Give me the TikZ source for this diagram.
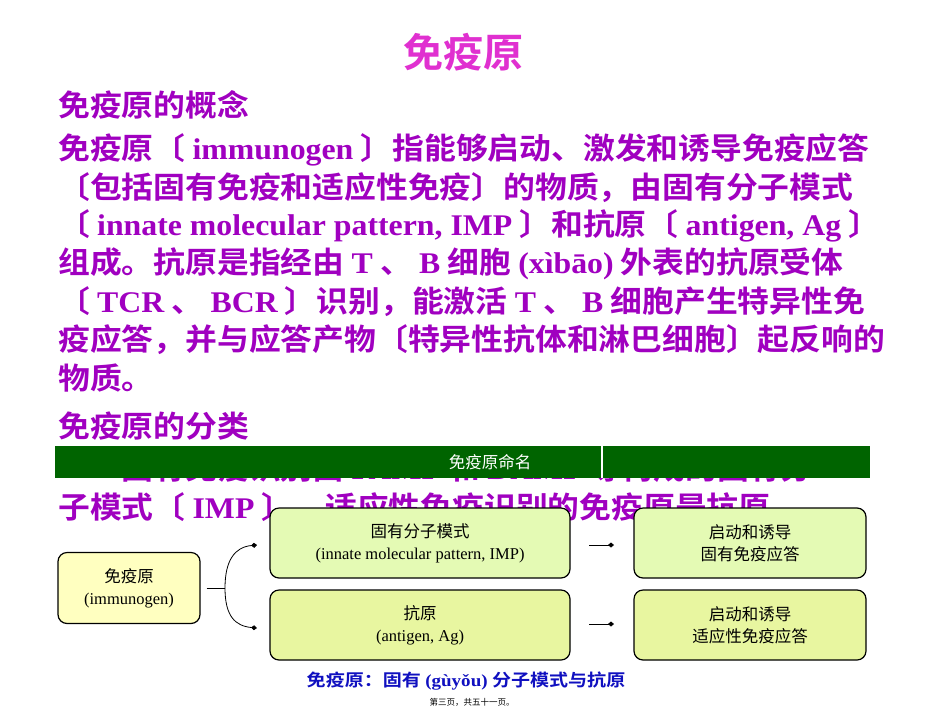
\documentclass[tikz,border=0pt]{standalone}
\usepackage{fontspec}
\usepackage{graphicx}
\setmainfont{Liberation Serif}
\newfontfamily\cjk{Noto Sans CJK SC}
\newfontfamily\cjkb{Noto Sans CJK SC Bold}
\usetikzlibrary{arrows.meta}
\definecolor{pur}{HTML}{A000C0}
\definecolor{mag}{HTML}{E030D0}
\definecolor{gbar}{HTML}{006400}
\definecolor{ylw}{HTML}{FFFFC0}
\definecolor{lg1}{HTML}{E4FAB4}
\definecolor{lg2}{HTML}{E8F6A0}
\definecolor{cap}{HTML}{1010C0}
\newcommand{\lat}[1]{{\normalfont\bfseries #1}}
\newcommand{\wide}[1]{\scalebox{1.06}[1]{#1}}
\tikzset{
 body/.style={anchor=west,inner sep=0pt,text=pur,font=\fontsize{30}{33}\selectfont\cjkb},
 box/.style={draw=black,line width=1.2pt,rounded corners=9pt,align=center,font=\fontsize{16.5}{22}\selectfont\cjk,inner sep=0pt},
 conn/.style={line width=0.8pt,-{Diamond[length=6pt,width=5pt]}}
}
\begin{document}
\begin{tikzpicture}[x=1pt,y=-1pt]
\useasboundingbox[fill=white] (0,0) rectangle (950,713);
\node[text=mag,font=\fontsize{40}{44}\selectfont\cjkb] (title) at (463,52) {免疫原};
\node[body] (h1) at (58,105) {\wide{免疫原的概念}};
\node[body] (l1) at (58,150) {\wide{免疫原〔 \lat{immunogen} 〕指能够启动、激发和诱导免疫应答}};
\node[body] (l2) at (58,188) {\wide{〔包括固有免疫和适应性免疫〕的物质，由固有分子模式}};
\node[body] (l3) at (58,226) {\wide{〔 \lat{innate molecular pattern, IMP} 〕和抗原〔 \lat{antigen, Ag} 〕}};
\node[body] (l4) at (58,264) {\wide{组成。抗原是指经由 \lat{T} 、 \lat{B} 细胞 \lat{(xìbāo)} 外表的抗原受体}};
\node[body] (l5) at (58,302) {\wide{〔 \lat{TCR} 、 \lat{BCR} 〕识别，能激活 \lat{T} 、 \lat{B} 细胞产生特异性免}};
\node[body] (l6) at (58,340) {\wide{疫应答，并与应答产物〔特异性抗体和淋巴细胞〕起反响的}};
\node[body] (l7) at (58,378) {\wide{物质。}};
\node[body] (h2) at (58,426) {\wide{免疫原的分类}};
\node[body] (l8) at (58,468) {\wide{\hspace{2em}固有免疫识别由 \lat{PAMP} 和 \lat{DAMP} 等构成的固有分}};
\node[body] (l9) at (58,508) {\wide{子模式〔 \lat{IMP} 〕，适应性免疫识别的免疫原是抗原}};
% green bar
\fill[gbar] (55,446) rectangle (870,478);
\draw[white,line width=2pt] (602,446) -- (602,478);
\node[text=white,font=\fontsize{16.5}{18}\selectfont\cjk] (bar) at (490,462) {免疫原命名};
% boxes
\node[box,fill=ylw,minimum width=142pt,minimum height=71pt] (imm) at (129,588) {免疫原\\\rmfamily(immunogen)};
\node[box,fill=lg1,minimum width=300pt,minimum height=70pt] (imp) at (420,543) {固有分子模式\\\rmfamily(innate molecular pattern, IMP)};
\node[box,fill=lg2,minimum width=300pt,minimum height=70pt] (ag) at (420,625) {抗原\\\rmfamily(antigen, Ag)};
\node[box,fill=lg1,minimum width=232pt,minimum height=70pt] (r1) at (750,543) {启动和诱导\\固有免疫应答};
\node[box,fill=lg2,minimum width=232pt,minimum height=70pt] (r2) at (750,625) {启动和诱导\\适应性免疫应答};
\coordinate (br) at (225,588);
\coordinate (t1) at (257,545);
\coordinate (t2) at (257,628);
\draw[line width=0.8pt] (imm.east) ++(6,0) -- (br);
\draw[conn] (br) .. controls (225,560) and (235,547) .. (t1);
\draw[conn] (br) .. controls (225,616) and (235,626) .. (t2);
\coordinate (a1) at (589,545);
\coordinate (a2) at (589,624);
\draw[conn] (a1) -- (614,545);
\draw[conn] (a2) -- (614,624);
\node[text=cap,font=\fontsize{17}{20}\selectfont\cjkb] (cap) at (466,681) {\scalebox{1.12}[1]{免疫原：固有 \lat{(gùyǒu)} 分子模式与抗原}};
\node[font=\fontsize{8.5}{10}\selectfont\cjk] (foot) at (472,702) {第三页，共五十一页。};
\end{tikzpicture}
\end{document}
